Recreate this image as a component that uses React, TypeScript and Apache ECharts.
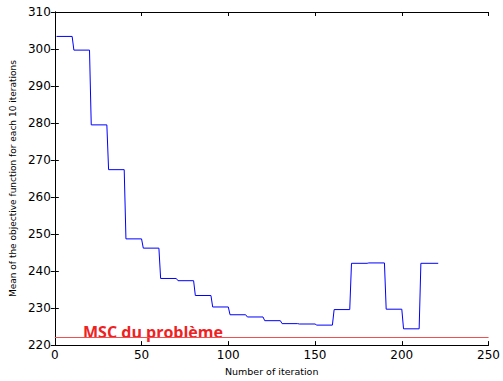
import React, { useEffect, useRef } from "react";
import * as echarts from "echarts";

const blockStarts = [1, 11, 21, 31, 41, 51, 61, 71, 81, 91, 101, 111, 121, 131, 141, 151, 161, 171, 181, 191, 201, 211];
const blockEnds = [10, 20, 30, 40, 50, 60, 70, 80, 90, 100, 110, 120, 130, 140, 150, 160, 170, 180, 190, 200, 210, 221];
const blockMeans = [303.4, 299.7, 279.5, 267.4, 248.7, 246.2, 238.0, 237.4, 233.4, 230.3, 228.2, 227.6, 226.6, 225.8, 225.7, 225.4, 229.6, 242.1, 242.2, 229.7, 224.4, 242.1];
const mscValue = 222;
const xTicks = { min: 0, max: 250, interval: 50 };
const yTicks = { min: 220, max: 310, interval: 10 };

export default function App() {
  const ref = useRef<HTMLDivElement>(null);
  useEffect(() => {
    if (!ref.current) return;
    const chart = echarts.init(ref.current, null, { renderer: "svg" });
    const data: number[][] = [];
    blockMeans.forEach((v, i) => {
      data.push([blockStarts[i], v]);
      data.push([blockEnds[i], v]);
    });
    const tickFont = { fontFamily: "DejaVu Sans", fontSize: 12, color: "#000" };
    const axisLine = { show: true, lineStyle: { color: "#000", width: 1 } };
    const tick = { show: true, inside: true, length: 4, lineStyle: { color: "#000" } };
    chart.setOption({
      animation: false,
      backgroundColor: "#fff",
      grid: { left: 52, right: 10, top: 12, bottom: 30, containLabel: false },
      xAxis: [
        {
          type: "value",
          ...xTicks,
          position: "bottom",
          axisLine,
          axisTick: tick,
          splitLine: { show: false },
          axisLabel: { ...tickFont, margin: 4 },
          name: "Number of iteration",
          nameLocation: "middle",
          nameGap: 16,
          nameTextStyle: { fontFamily: "DejaVu Sans", fontSize: 9.5, color: "#000" },
        },
        {
          type: "value",
          ...xTicks,
          position: "top",
          axisLine,
          axisTick: tick,
          splitLine: { show: false },
          axisLabel: { show: false },
        },
      ],
      yAxis: [
        {
          type: "value",
          ...yTicks,
          position: "left",
          axisLine,
          axisTick: tick,
          splitLine: { show: false },
          axisLabel: { ...tickFont, margin: 4 },
          name: "Mean of the objective function for each 10 iterations",
          nameLocation: "middle",
          nameGap: 30,
          nameTextStyle: { fontFamily: "DejaVu Sans", fontSize: 9, color: "#000" },
        },
        {
          type: "value",
          ...yTicks,
          position: "right",
          axisLine,
          axisTick: tick,
          splitLine: { show: false },
          axisLabel: { show: false },
        },
      ],
      series: [
        {
          type: "line",
          data,
          showSymbol: false,
          symbol: "none",
          lineStyle: { color: "#0000ff", width: 1 },
          markLine: {
            silent: true,
            symbol: "none",
            label: { show: false },
            lineStyle: { color: "#f05050", width: 1, type: "solid" },
            data: [{ yAxis: mscValue }],
          },
        },
      ],
      graphic: [
        {
          type: "text",
          left: 83,
          top: 324,
          style: {
            text: "MSC du problème",
            fontFamily: "Open Sans",
            fontWeight: "bold",
            fontSize: 16,
            fill: "#ee2222",
          },
        },
      ],
    });
    return () => chart.dispose();
  }, []);
  return (
    <div
      ref={ref}
      style={{ position: "fixed", left: 0, top: 0, width: 503, height: 381 }}
    />
  );
}
